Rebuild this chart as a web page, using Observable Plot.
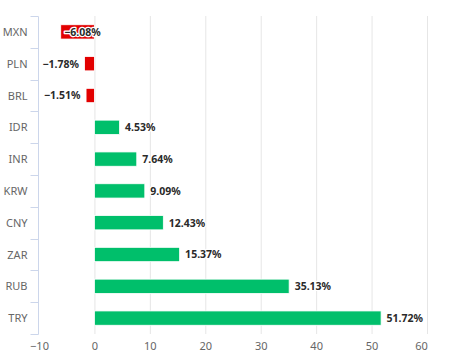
<!DOCTYPE html>
<html><head><meta charset="utf-8">
<script src="https://cdn.jsdelivr.net/npm/d3@7"></script>
<script src="https://cdn.jsdelivr.net/npm/@observablehq/plot@0.6"></script>
<style>body{margin:0;background:#fff}</style>
</head><body><div id="chart"></div>
<script>
const currencies = ["MXN","PLN","BRL","IDR","INR","KRW","CNY","ZAR","RUB","TRY"];
const changes = [-6.08,-1.78,-1.51,4.53,7.64,9.09,12.43,15.37,35.13,51.72];
const xDomain = [-10, 60];
const xTicks = [-10,0,10,20,30,40,50];
const xLastTick = [60];
const gridTicks = [0,10,20,30,40,50,60];

const data = currencies.map((c, i) => ({currency: c, change: changes[i]}));
const fmt = v => (v < 0 ? "\u2212" : "") + Math.abs(v).toFixed(2) + "%";
const PI = 0.55;
const tooTight = d => d.change < 0 && (d.change - xDomain[0]) < 7;

const yAxisLine = (index, scales, values, dimensions) => {
  const y = scales.y, x = scales.x;
  const step = y(currencies[1]) - y(currencies[0]);
  const top = y(currencies[0]) - step * PI / 2;
  const bounds = d3.range(currencies.length + 1).map(i => Math.round(top + i * step) + 0.5);
  const x0 = Math.round(x(xDomain[0])) - 0.5;
  const g = d3.create("svg:g").attr("stroke", "#ccd6eb").attr("stroke-width", 1);
  g.append("line").attr("x1", x0).attr("x2", x0).attr("y1", bounds[0]).attr("y2", bounds[bounds.length - 1]);
  g.selectAll(null).data(bounds).join("line")
    .attr("x1", x0 - 8).attr("x2", x0).attr("y1", d => d).attr("y2", d => d);
  return g.node();
};

const labelStyle = {fontWeight: "bold", fill: "#2a2a2a", stroke: "white", strokeWidth: 2.5, paintOrder: "stroke", fontSize: 10.5};
const tickFmt = d => d < 0 ? "\u2212" + Math.abs(d) : String(d);

const chart = Plot.plot({
  width: 454, height: 358,
  marginTop: 16, marginBottom: 24, marginLeft: 39, marginRight: 27,
  style: {fontFamily: "'Noto Sans', sans-serif", fontSize: "11px", color: "#666", background: "#fff"},
  x: {domain: xDomain, ticks: gridTicks},
  y: {domain: currencies, paddingInner: PI, paddingOuter: PI / 2, round: false},
  marks: [
    Plot.ruleX(gridTicks, {stroke: "#e6e6e6", strokeWidth: 1}),
    Plot.barX(data.filter(d => d.change < 0), {x: "change", y: "currency", fill: "#e20000", stroke: "white", strokeWidth: 0.8}),
    Plot.barX(data.filter(d => d.change >= 0), {x: "change", y: "currency", fill: "#00bf6b", stroke: "white", strokeWidth: 0.8}),
    yAxisLine,
    Plot.axisX({ticks: xTicks, tickSize: 0, tickPadding: 8, label: null, fill: "#666", tickFormat: tickFmt}),
    Plot.axisX({ticks: xLastTick, tickSize: 0, tickPadding: 8, label: null, fill: "#666", tickFormat: tickFmt, dx: -6}),
    Plot.axisY({tickSize: 0, tickPadding: 12, label: null, fill: "#666"}),
    Plot.text(data.filter(d => d.change >= 0), {x: "change", y: "currency", text: d => fmt(d.change), textAnchor: "start", dx: 5, ...labelStyle}),
    Plot.text(data.filter(d => d.change < 0 && !tooTight(d)), {x: "change", y: "currency", text: d => fmt(d.change), textAnchor: "end", dx: -6, ...labelStyle}),
    Plot.text(data.filter(d => tooTight(d)), {x: "change", y: "currency", text: d => fmt(d.change), textAnchor: "start", dx: 3, ...labelStyle})
  ]
});
document.getElementById("chart").append(chart);
</script>
</body></html>
